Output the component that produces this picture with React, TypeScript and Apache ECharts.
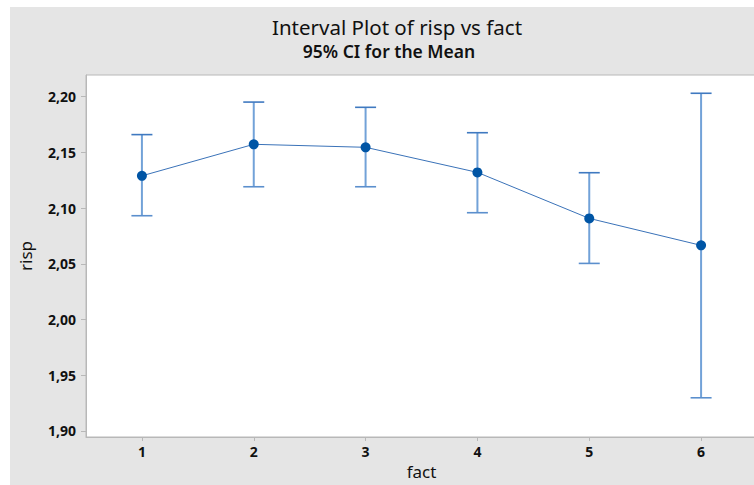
import React, { useEffect, useRef } from "react";
import * as echarts from "echarts";

const categories = ["1", "2", "3", "4", "5", "6"];
const means = [2.129, 2.1573, 2.1546, 2.1321, 2.0908, 2.0666];
const lowerCI = [2.0932, 2.1192, 2.1192, 2.0959, 2.0504, 1.9298];
const upperCI = [2.166, 2.1952, 2.1905, 2.1677, 2.1318, 2.2031];
const yMin = 1.8946;
const yMax = 2.2195;

const FONT = "'Noto Sans', 'Open Sans', sans-serif";

export default function App() {
  const ref = useRef<HTMLDivElement>(null);
  useEffect(() => {
    if (!ref.current) return;
    const chart = echarts.init(ref.current, null, { renderer: "svg" });
    const errData = categories.map((_, i) => [i, lowerCI[i], upperCI[i]]);
    chart.setOption({
      animation: false,
      backgroundColor: "#ffffff",
      textStyle: { fontFamily: FONT },
      graphic: [
        {
          type: "rect",
          z: -10,
          shape: { x: 10, y: 7, width: 760, height: 480 },
          style: { fill: "#e5e5e5" },
        },
        {
          type: "text",
          x: 397,
          y: 27,
          style: {
            text: "Interval Plot of risp vs fact",
            fontSize: 20.5,
            fontFamily: FONT,
            fill: "#111",
            align: "center",
            verticalAlign: "middle",
          },
        },
        {
          type: "text",
          x: 389,
          y: 51,
          style: {
            text: "95% CI for the Mean",
            fontSize: 17.5,
            fontWeight: 600,
            fontFamily: FONT,
            fill: "#111",
            align: "center",
            verticalAlign: "middle",
          },
        },
      ],
      grid: {
        left: 86,
        top: 75,
        width: 671,
        height: 362,
        outerBoundsMode: "none",
        containLabel: false,
        show: true,
        backgroundColor: "#ffffff",
        borderColor: "#b8b8b8",
        borderWidth: 1,
      },
      xAxis: {
        type: "category",
        data: categories,
        boundaryGap: true,
        name: "fact",
        nameLocation: "middle",
        nameGap: 25,
        nameTextStyle: { fontSize: 17, color: "#111", fontFamily: FONT },
        axisLine: { show: true, lineStyle: { color: "#b8b8b8", width: 1 } },
        axisTick: { show: true, alignWithLabel: true, length: 4, lineStyle: { color: "#b8b8b8" } },
        axisLabel: { color: "#111", fontSize: 14, fontWeight: "bold", margin: 7, fontFamily: FONT },
        splitLine: { show: false },
      },
      yAxis: {
        type: "value",
        min: yMin,
        max: yMax,
        name: "risp",
        nameLocation: "middle",
        nameGap: 52,
        nameTextStyle: { fontSize: 17, color: "#111", fontFamily: FONT },
        axisLine: { show: true, lineStyle: { color: "#b8b8b8", width: 1 } },
        axisTick: { show: true, length: 5, lineStyle: { color: "#b8b8b8" } },
        axisLabel: {
          color: "#111",
          fontSize: 14,
          fontWeight: "bold",
          margin: 10,
          fontFamily: FONT,
          showMinLabel: false,
          showMaxLabel: false,
          formatter: (v: number) => v.toFixed(2).replace(".", ","),
        },
        splitLine: { show: false },
      },
      series: [
        {
          type: "custom",
          data: errData,
          z: 2,
          renderItem: (params: any, api: any) => {
            const x = api.value(0);
            const lo = api.coord([x, api.value(1)]);
            const hi = api.coord([x, api.value(2)]);
            const hw = 10.5;
            return {
              type: "group",
              children: [
                {
                  type: "line",
                  shape: { x1: lo[0], y1: lo[1], x2: hi[0], y2: hi[1] },
                  style: { stroke: "#72a2d8", lineWidth: 2 },
                },
                {
                  type: "line",
                  shape: { x1: hi[0] - hw, y1: hi[1], x2: hi[0] + hw, y2: hi[1] },
                  style: { stroke: "#3f79c0", lineWidth: 1.6 },
                },
                {
                  type: "line",
                  shape: { x1: lo[0] - hw, y1: lo[1], x2: lo[0] + hw, y2: lo[1] },
                  style: { stroke: "#5b8fcd", lineWidth: 1.6 },
                },
              ],
            };
          },
        },
        {
          type: "line",
          data: means,
          z: 3,
          symbol: "circle",
          symbolSize: 10,
          lineStyle: { color: "#3a72b8", width: 1 },
          itemStyle: { color: "#0055a5" },
        },
      ],
    });
    return () => chart.dispose();
  }, []);
  return (
    <div
      ref={ref}
      style={{ position: "fixed", left: 0, top: 0, width: 754, height: 485 }}
    />
  );
}
